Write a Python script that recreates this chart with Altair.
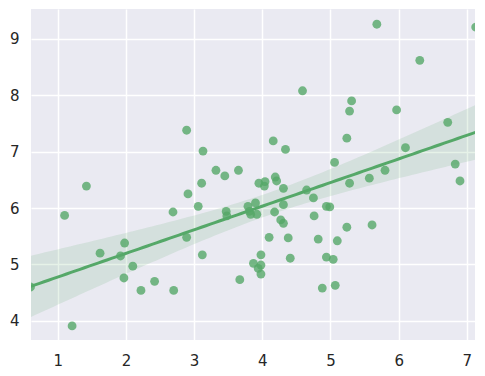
import altair as alt
import numpy as np
import pandas as pd

x_vals = [0.60, 1.10, 1.21, 1.42, 1.62, 1.92, 1.97, 1.98, 2.10, 2.22,
          2.42, 2.69, 2.70, 2.89, 2.89, 2.91, 3.06, 3.11, 3.12, 3.13,
          3.32, 3.45, 3.47, 3.48, 3.65, 3.67, 3.79, 3.81, 3.83, 3.87,
          3.90, 3.92, 3.94, 3.95, 3.98, 3.98, 3.98, 4.03, 4.04, 4.10,
          4.16, 4.18, 4.19, 4.21, 4.27, 4.31, 4.31, 4.31, 4.34, 4.38,
          4.41, 4.59, 4.65, 4.75, 4.76, 4.82, 4.88, 4.94, 4.94, 4.99,
          5.04, 5.06, 5.07, 5.10, 5.24, 5.24, 5.28, 5.28, 5.31, 5.57,
          5.61, 5.68, 5.80, 5.97, 6.10, 6.31, 6.72, 6.83, 6.90, 7.13]
y_vals = [4.60, 5.87, 3.91, 6.39, 5.20, 5.15, 4.76, 5.38, 4.97, 4.54,
          4.70, 5.93, 4.54, 5.48, 7.38, 6.25, 6.03, 6.44, 5.17, 7.01,
          6.67, 6.57, 5.94, 5.86, 6.67, 4.73, 6.03, 5.94, 5.89, 5.02,
          6.09, 5.89, 4.93, 6.44, 5.17, 4.99, 4.83, 6.39, 6.47, 5.48,
          7.19, 5.93, 6.55, 6.48, 5.79, 6.06, 5.73, 6.35, 7.04, 5.47,
          5.11, 8.08, 6.32, 6.18, 5.86, 5.45, 4.58, 6.03, 5.13, 6.02,
          5.09, 6.81, 4.63, 5.42, 7.24, 5.66, 6.44, 7.72, 7.90, 6.53,
          5.70, 9.26, 6.67, 7.74, 7.07, 8.62, 7.52, 6.78, 6.48, 9.21]

x_ticks = [1, 2, 3, 4, 5, 6, 7]
y_ticks = [4, 5, 6, 7, 8, 9]
x_domain = [0.607, 7.12]
y_domain = [3.66, 9.53]

GREEN = "#55A868"

pts = pd.DataFrame({"x": x_vals, "y": y_vals})

# regression fit + 95% confidence band (as seaborn regplot)
xa = np.array(x_vals)
ya = np.array(y_vals)
n = len(xa)
b, a = np.polyfit(xa, ya, 1)
resid = ya - (a + b * xa)
s = np.sqrt(np.sum(resid ** 2) / (n - 2))
sxx = np.sum((xa - xa.mean()) ** 2)
grid = np.linspace(xa.min(), xa.max(), 100)
yhat = a + b * grid
se = s * np.sqrt(1.0 / n + (grid - xa.mean()) ** 2 / sxx)
tval = 1.991
band = pd.DataFrame({"x": grid, "yhat": yhat,
                     "lo": yhat - tval * se, "hi": yhat + tval * se})

xs = alt.Scale(domain=x_domain, nice=False, zero=False)
ys = alt.Scale(domain=y_domain, nice=False, zero=False)

xaxis = alt.Axis(values=x_ticks, format="d", title=None, grid=True, gridColor="white",
                 gridWidth=1.5, ticks=False, domain=False, labelPadding=13,
                 labelFontSize=15, labelFont="DejaVu Sans", labelColor="#262626")
yaxis = alt.Axis(values=y_ticks, format="d", title=None, grid=True, gridColor="white",
                 gridWidth=1.5, ticks=False, domain=False, labelPadding=12,
                 labelFontSize=15, labelFont="DejaVu Sans", labelColor="#262626")

points = alt.Chart(pts).mark_circle(size=78, color=GREEN, opacity=0.8, clip=True).encode(
    x=alt.X("x:Q", scale=xs, axis=xaxis),
    y=alt.Y("y:Q", scale=ys, axis=yaxis),
)

area = alt.Chart(band).mark_area(color=GREEN, opacity=0.15, clip=True).encode(
    x=alt.X("x:Q", scale=xs),
    y=alt.Y("lo:Q", scale=ys),
    y2="hi:Q",
)

line = alt.Chart(band).mark_line(color=GREEN, strokeWidth=3, clip=True).encode(
    x=alt.X("x:Q", scale=xs),
    y=alt.Y("yhat:Q", scale=ys),
)

chart = alt.layer(points, area, line).properties(
    width=444, height=331,
    autosize=alt.AutoSizeParams(type="none"),
    padding={"left": 31, "top": 9, "right": 10, "bottom": 36},
    background="white",
).configure_view(fill="#EAEAF2", stroke=None)

chart.save("out.html", embed_options={"renderer": "svg", "actions": False})
